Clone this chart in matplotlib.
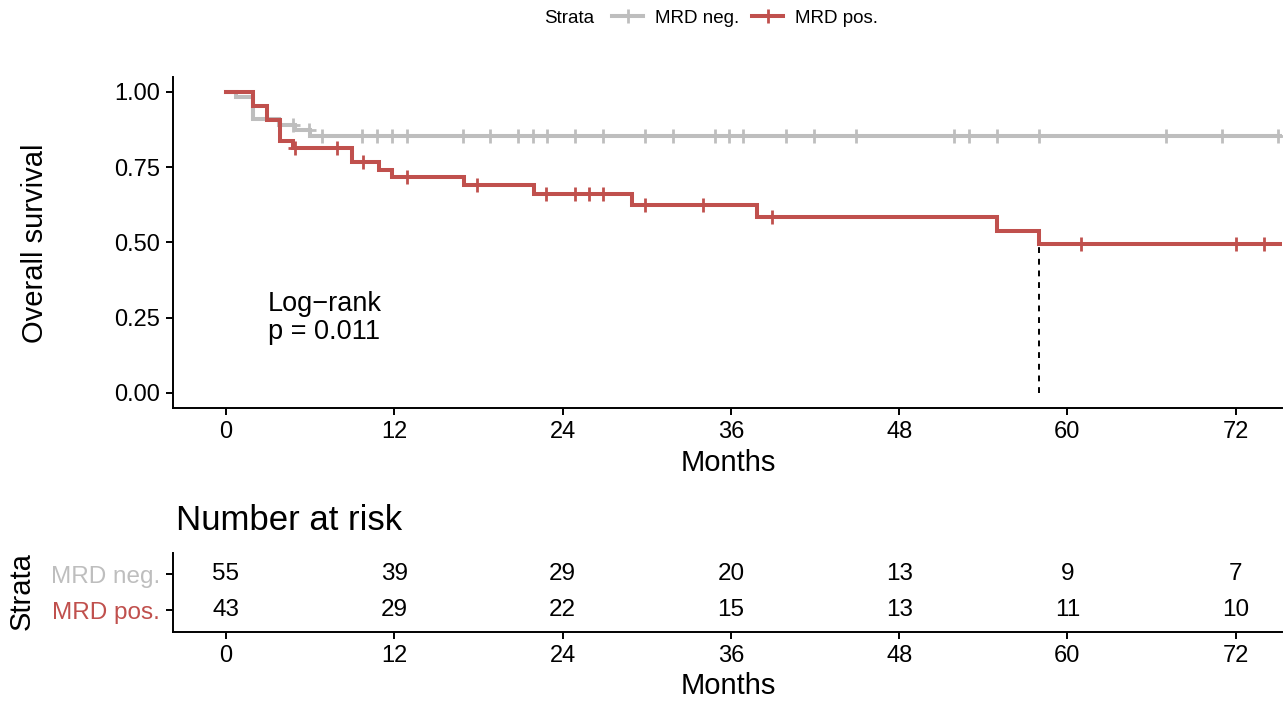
import numpy as np
import matplotlib.pyplot as plt
from matplotlib.lines import Line2D

plt.rcParams['font.family'] = ['Liberation Sans', 'DejaVu Sans']

GREY = "#BEBEBE"
RED = "#C0504D"

# Kaplan-Meier steps (months, survival)
neg_time = [0, 0.75, 1.9, 3.75, 4.9, 6.0]
neg_surv = [1.0, 0.982, 0.909, 0.891, 0.873, 0.855]
neg_cens = [4.8, 5.9, 6.85, 9.7, 10.8, 11.85, 12.9, 16.9, 18.85, 20.8, 21.9, 22.9,
            24.9, 26.9, 29.9, 31.9, 34.9, 35.9, 36.9, 39.9, 41.9, 44.9, 51.9,
            52.95, 55.0, 58.0, 67.0, 71.0, 75.0]

pos_time = [0, 1.9, 2.9, 3.85, 4.8, 9.0, 10.9, 11.85, 16.95, 21.95, 28.95, 37.9, 54.95, 57.97]
pos_surv = [1.0, 0.953, 0.907, 0.837, 0.814, 0.767, 0.742, 0.718, 0.690, 0.661, 0.625,
            0.583, 0.538, 0.494]
pos_cens = [4.9, 7.9, 9.8, 12.9, 17.9, 22.85, 24.9, 25.9, 26.9, 29.9, 34.0, 38.9,
            61.0, 72.0, 74.0]

follow_up_end = 78
median_pos = 57.97

risk_times = [0, 12, 24, 36, 48, 60, 72]
risk_neg = [55, 39, 29, 20, 13, 9, 7]
risk_pos = [43, 29, 22, 15, 13, 11, 10]
strata = ["MRD neg.", "MRD pos."]


def surv_at(times, surv, t):
    idx = np.searchsorted(times, t, side="right") - 1
    return np.array(surv)[idx]


fig = plt.figure(figsize=(12.86, 7.05), dpi=100)
ax = fig.add_axes([0.1348, 0.4213, 0.8621, 0.4697])

for times, surv, cens, col in [(neg_time, neg_surv, neg_cens, GREY),
                               (pos_time, pos_surv, pos_cens, RED)]:
    ax.step(times + [follow_up_end], surv + [surv[-1]], where="post",
            color=col, lw=2.9, solid_joinstyle="miter")
    ax.plot(cens, surv_at(times, surv, cens), ls="none", marker="+",
            ms=10, mew=2, color=col)

ax.plot([median_pos, median_pos], [0, surv_at(pos_time, pos_surv, median_pos)],
        ls=(0, (3, 3)), color="black", lw=1.4)

ax.text(3.0, 0.25, "Log\u2212rank\np = 0.011", fontsize=19.5, ha="left", va="center",
        linespacing=1.1)

ax.set_xlim(-3.75, 75.3)
ax.set_ylim(-0.05, 1.05)
ax.set_xticks(risk_times)
ax.set_yticks([0, 0.25, 0.5, 0.75, 1.0])
ax.set_yticklabels(["0.00", "0.25", "0.50", "0.75", "1.00"])
for s in ["top", "right"]:
    ax.spines[s].set_visible(False)
for s in ["left", "bottom"]:
    ax.spines[s].set_linewidth(1.4)
ax.tick_params(labelsize=17, width=1.4, length=5, pad=4.5, colors="black")

fig.text(0.027, 0.655, "Overall survival", rotation=90, fontsize=21, ha="center", va="center")
fig.text(0.566, 0.343, "Months", fontsize=21, ha="center", va="center")

# legend at top
fig.text(0.423, 0.974, "Strata", fontsize=13.5, ha="left", va="center")
handles = [Line2D([], [], color=c, lw=2.9, marker="+", ms=10, mew=2) for c in (GREY, RED)]
fig.legend(handles, strata, loc="center left", bbox_to_anchor=(0.476, 0.974), ncol=2,
           frameon=False, fontsize=13.5, handlelength=1.65, handletextpad=0.64,
           columnspacing=0.7, borderaxespad=0, borderpad=0)

# number at risk table
rax = fig.add_axes([0.1348, 0.104, 0.8621, 0.112])
for y, vals in [(2, risk_neg), (1, risk_pos)]:
    for t, v in zip(risk_times, vals):
        rax.text(t, y, str(v), fontsize=17.5, ha="center", va="center")
rax.set_xlim(-3.75, 75.3)
rax.set_ylim(0.4, 2.6)
rax.set_xticks(risk_times)
rax.set_yticks([2, 1])
rax.set_yticklabels(strata)
rax.tick_params(axis="y", labelsize=17.5)
for lab, col in zip(rax.get_yticklabels(), (GREY, RED)):
    lab.set_color(col)
for s in ["top", "right"]:
    rax.spines[s].set_visible(False)
for s in ["left", "bottom"]:
    rax.spines[s].set_linewidth(1.4)
rax.tick_params(axis="x", labelsize=17, colors="black")
rax.tick_params(width=1.4, length=5, pad=4.5)

fig.text(0.137, 0.262, "Number at risk", fontsize=25, ha="left", va="center")
fig.text(0.017, 0.162, "Strata", rotation=90, fontsize=21, ha="center", va="center")
fig.text(0.566, 0.027, "Months", fontsize=21, ha="center", va="center")

fig.savefig("out.png", dpi=100)
